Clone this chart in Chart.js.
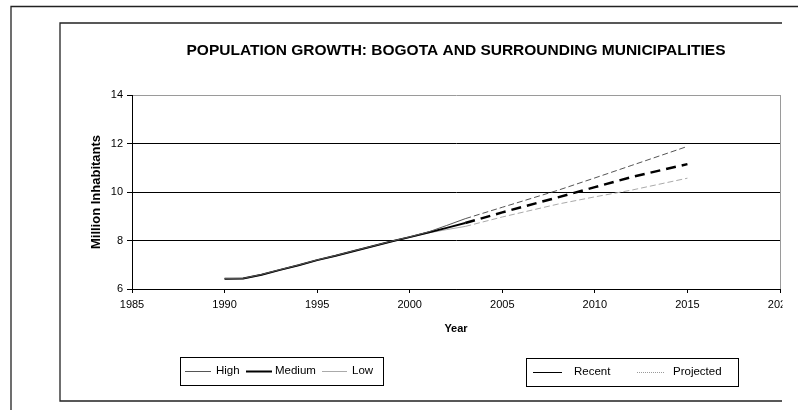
<!DOCTYPE html>
<html><head><meta charset="utf-8">
<script src="https://cdn.jsdelivr.net/npm/chart.js@4/dist/chart.umd.min.js"></script>
<style>html,body{margin:0;padding:0;background:#fff}canvas{display:block}</style>
</head><body>
<canvas id="c" width="798" height="410" style="width:798px;height:410px"></canvas>
<script>
// ---- data ----
const chartTitle = 'POPULATION GROWTH: BOGOTA AND SURROUNDING MUNICIPALITIES';
const xAxisTitle = 'Year';
const yAxisTitle = 'Million Inhabitants';
const scenarios = ['High', 'Medium', 'Low'];
const phases = ['Recent', 'Projected'];
const xTickValues = [1985, 1990, 1995, 2000, 2005, 2010, 2015, 2020];
const yTickValues = [6, 8, 10, 12, 14];

const recentYears = [1990, 1991, 1992, 1993, 1994, 1995, 1996, 1997, 1998, 1999, 2000, 2001, 2002, 2003];
const highRecent   = [6.43, 6.44, 6.60, 6.80, 6.99, 7.20, 7.38, 7.58, 7.77, 7.97, 8.15, 8.35, 8.62, 8.90];
const mediumRecent = [6.42, 6.43, 6.59, 6.79, 6.98, 7.19, 7.37, 7.57, 7.76, 7.96, 8.14, 8.33, 8.52, 8.72];
const lowRecent    = [6.41, 6.42, 6.58, 6.78, 6.97, 7.18, 7.36, 7.56, 7.75, 7.95, 8.13, 8.31, 8.45, 8.58];

const projectedYears = [2003, 2005, 2008, 2010, 2012, 2015];
const highProjected   = [8.90, 9.37, 10.07, 10.58, 11.10, 11.88];
const mediumProjected = [8.72, 9.16, 9.78, 10.20, 10.62, 11.15];
const lowProjected    = [8.58, 8.97, 9.50, 9.80, 10.08, 10.57];

// ---- styles ----
const FONT = '"Liberation Sans", Arial, Helvetica, sans-serif';
const styles = {
  High:   {color: '#555555', width: 1,   projWidth: 1,   dash: [6, 3]},
  Medium: {color: '#000000', width: 2,   projWidth: 2.5, dash: [10, 6]},
  Low:    {color: '#aaaaaa', width: 1,   projWidth: 1,   dash: [6, 3]}
};
const recentSeries = {High: highRecent, Medium: mediumRecent, Low: lowRecent};
const projectedSeries = {High: highProjected, Medium: mediumProjected, Low: lowProjected};

function pts(xs, ys) { return xs.map((x, i) => ({x: x, y: ys[i]})); }

const datasets = [];
scenarios.forEach(s => {
  datasets.push({
    label: s + ' ' + phases[0], data: pts(recentYears, recentSeries[s]),
    borderColor: styles[s].color, borderWidth: styles[s].width,
    pointRadius: 0, tension: 0, fill: false
  });
});
scenarios.forEach(s => {
  datasets.push({
    label: s + ' ' + phases[1], data: pts(projectedYears, projectedSeries[s]),
    borderColor: styles[s].color, borderWidth: styles[s].projWidth, borderDash: styles[s].dash,
    pointRadius: 0, tension: 0, fill: false
  });
});

// ---- frame + legend plugin ----
const framePlugin = {
  id: 'frame',
  beforeDraw(chart) {
    const ctx = chart.ctx;
    ctx.save();
    ctx.fillStyle = '#fff';
    ctx.fillRect(0, 0, chart.width, chart.height);
    ctx.restore();
  },
  afterDraw(chart) {
    const ctx = chart.ctx;
    ctx.save();
    // clip area beyond inner box
    ctx.fillStyle = '#fff';
    ctx.fillRect(782.5, 10, chart.width - 782.5, chart.height - 10);
    ctx.strokeStyle = '#222';
    ctx.lineWidth = 1.3;
    ctx.beginPath();
    ctx.moveTo(11, chart.height); ctx.lineTo(11, 6.5); ctx.lineTo(chart.width, 6.5);
    ctx.stroke();
    ctx.beginPath();
    ctx.moveTo(782, 23); ctx.lineTo(60, 23); ctx.lineTo(60, 401); ctx.lineTo(782, 401);
    ctx.stroke();

    // legend boxes
    ctx.lineWidth = 1;
    ctx.strokeStyle = '#000';
    ctx.font = '11.5px ' + FONT;
    ctx.fillStyle = '#000';
    ctx.textBaseline = 'middle';
    ctx.textAlign = 'left';
    // box 1 : scenarios
    ctx.strokeRect(180.5, 357.5, 203, 28);
    const cy1 = 371;
    const samples1 = [[185, 211, 216], [246, 272, 275], [322, 347, 352]];
    scenarios.forEach((s, i) => {
      const [a, b, t] = samples1[i];
      ctx.save();
      ctx.strokeStyle = styles[s].color;
      ctx.lineWidth = styles[s].width;
      ctx.beginPath(); ctx.moveTo(a, cy1 + 0.5); ctx.lineTo(b, cy1 + 0.5); ctx.stroke();
      ctx.restore();
      ctx.fillText(s, t, cy1);
    });
    // box 2 : phases
    ctx.strokeRect(526.5, 358.5, 212, 28);
    const cy2 = 372;
    ctx.save();
    ctx.strokeStyle = '#000'; ctx.lineWidth = 1;
    ctx.beginPath(); ctx.moveTo(533, cy2 + 0.5); ctx.lineTo(562, cy2 + 0.5); ctx.stroke();
    ctx.strokeStyle = '#999'; ctx.setLineDash([1, 1]);
    ctx.beginPath(); ctx.moveTo(637, cy2 + 0.5); ctx.lineTo(664, cy2 + 0.5); ctx.stroke();
    ctx.restore();
    ctx.fillText(phases[0], 574, cy2);
    ctx.fillText(phases[1], 673, cy2);
    ctx.restore();
  }
};

new Chart(document.getElementById('c'), {
  type: 'line',
  data: {datasets: datasets},
  plugins: [framePlugin],
  options: {
    responsive: false,
    animation: false,
    devicePixelRatio: 1,
    layout: {padding: {left: 60, right: 18, top: 24, bottom: 74}},
    plugins: {
      legend: {display: false},
      tooltip: {enabled: false},
      title: {
        display: true, text: chartTitle, color: '#000', fullSize: false,
        font: {family: FONT, size: 15.5, weight: 'bold'},
        padding: {top: 17, bottom: 35.4}
      }
    },
    scales: {
      x: {
        type: 'linear', min: xTickValues[0], max: xTickValues[xTickValues.length - 1],
        afterBuildTicks(scale) { scale.ticks = xTickValues.map(v => ({value: v})); },
        afterFit(scale) { scale.height = 47; },
        ticks: {color: '#000', font: {family: FONT, size: 11}, padding: 5, maxRotation: 0, autoSkip: false,
                callback: v => String(v)},
        grid: {
          drawOnChartArea: true, tickLength: 4, tickColor: '#000', lineWidth: 1,
          color: c => (c.tick && c.tick.value === xTickValues[xTickValues.length - 1]) ? '#9a9a9a' : 'rgba(0,0,0,0)'
        },
        border: {display: true, color: '#000', width: 1},
        title: {display: true, text: xAxisTitle, color: '#000', font: {family: FONT, size: 11, weight: 'bold'},
                padding: {top: 0, bottom: 0}}
      },
      y: {
        type: 'linear', min: yTickValues[0], max: yTickValues[yTickValues.length - 1],
        afterBuildTicks(scale) { scale.ticks = yTickValues.map(v => ({value: v})); },
        afterFit(scale) { scale.width = 72; },
        ticks: {color: '#000', font: {family: FONT, size: 11}, padding: 4, callback: v => String(v)},
        grid: {
          tickLength: 5, tickColor: '#000', lineWidth: 1,
          color: c => (c.tick && c.tick.value === yTickValues[yTickValues.length - 1]) ? '#9a9a9a' : '#000'
        },
        border: {display: true, color: '#000', width: 1},
        title: {display: true, text: yAxisTitle, color: '#000', font: {family: FONT, size: 13, weight: 'bold'},
                padding: {top: 29, bottom: 0}}
      }
    }
  }
});
</script>
</body></html>
